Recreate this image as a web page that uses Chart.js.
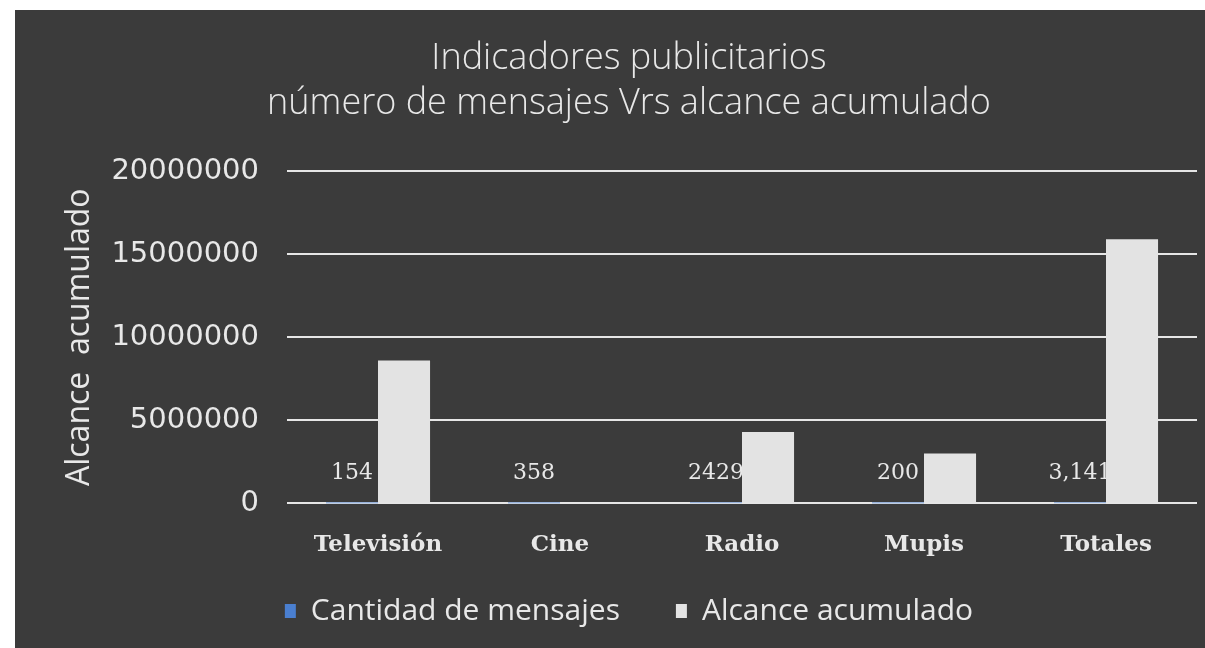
<!DOCTYPE html>
<html>
<head>
<meta charset="utf-8">
<script src="https://cdn.jsdelivr.net/npm/chart.js@4"></script>
<style>
  html, body { margin: 0; padding: 0; background: #fff; }
  #wrap { position: absolute; left: 15px; top: 10px; width: 1190px; height: 638px; background: #3b3b3b; }
</style>
</head>
<body>
<div id="wrap"><canvas id="chart"></canvas></div>
<script>
/* Datos */
const categorias = ['Televisión', 'Cine', 'Radio', 'Mupis', 'Totales'];
const mensajes = [154, 358, 2429, 200, 3141];
const etiquetasMensajes = ['154', '358', '2429', '200', '3,141'];
const alcance = [8600000, 0, 4300000, 3000000, 15900000];
const ticksY = [0, 5000000, 10000000, 15000000, 20000000];

const TXT = '#e8e8e8';
const SANS = '"Open Sans", "DejaVu Sans", sans-serif';
const SERIF = '"DejaVu Serif", serif';

/* Etiquetas de cantidad (se dibujan antes de la barra gris) */
const etiquetas = {
  id: 'etiquetas',
  beforeDatasetDraw(chart, args) {
    if (args.index !== 1) return;
    const meta = chart.getDatasetMeta(0);
    const ctx = chart.ctx;
    ctx.save();
    ctx.font = '22px ' + SERIF;
    ctx.fillStyle = TXT;
    ctx.textAlign = 'center';
    ctx.textBaseline = 'middle';
    meta.data.forEach((bar, i) => {
      ctx.fillText(etiquetasMensajes[i], bar.x, bar.y - 30);
    });
    ctx.restore();
  }
};

new Chart(document.getElementById('chart'), {
  type: 'bar',
  data: {
    labels: categorias,
    datasets: [
      {
        label: 'Cantidad de mensajes     ',
        data: mensajes,
        backgroundColor: '#4a7fd0',
        categoryPercentage: 0.572,
        barPercentage: 1
      },
      {
        label: 'Alcance acumulado',
        data: alcance,
        backgroundColor: '#e3e3e3',
        categoryPercentage: 0.572,
        barPercentage: 1
      }
    ]
  },
  options: {
    responsive: true,
    maintainAspectRatio: false,
    animation: false,
    layout: { padding: { left: 46, right: 8, top: 26, bottom: 12 } },
    plugins: {
      title: {
        display: true,
        text: ['Indicadores publicitarios', 'número de mensajes Vrs alcance acumulado'],
        color: TXT,
        font: { family: SANS, size: 36, weight: '300', lineHeight: 1.25 },
        padding: { top: 0, bottom: 45 }
      },
      legend: {
        position: 'bottom',
        labels: {
          color: TXT,
          font: { family: SANS, size: 30 },
          boxWidth: 11,
          boxHeight: 14,
          padding: 17
        }
      },
      tooltip: { enabled: false }
    },
    scales: {
      x: {
        grid: { display: false },
        border: { display: false },
        ticks: { color: TXT, font: { family: SERIF, size: 23, weight: 'bold' }, padding: 20 }
      },
      y: {
        min: 0,
        max: 20000000,
        afterBuildTicks: axis => { axis.ticks = ticksY.map(v => ({ value: v })); },
        afterFit: axis => { axis.width = 226; },
        grid: { color: '#e6e6e6', lineWidth: 2, drawTicks: false },
        border: { display: false },
        title: {
          display: true,
          text: 'Alcance  acumulado',
          color: TXT,
          font: { family: SANS, size: 32 },
          padding: { top: 0, bottom: 4 }
        },
        ticks: { color: TXT, font: { family: '"DejaVu Sans", sans-serif', size: 29 }, padding: 28, callback: v => String(v) }
      }
    }
  },
  plugins: [etiquetas]
});
</script>
</body>
</html>
